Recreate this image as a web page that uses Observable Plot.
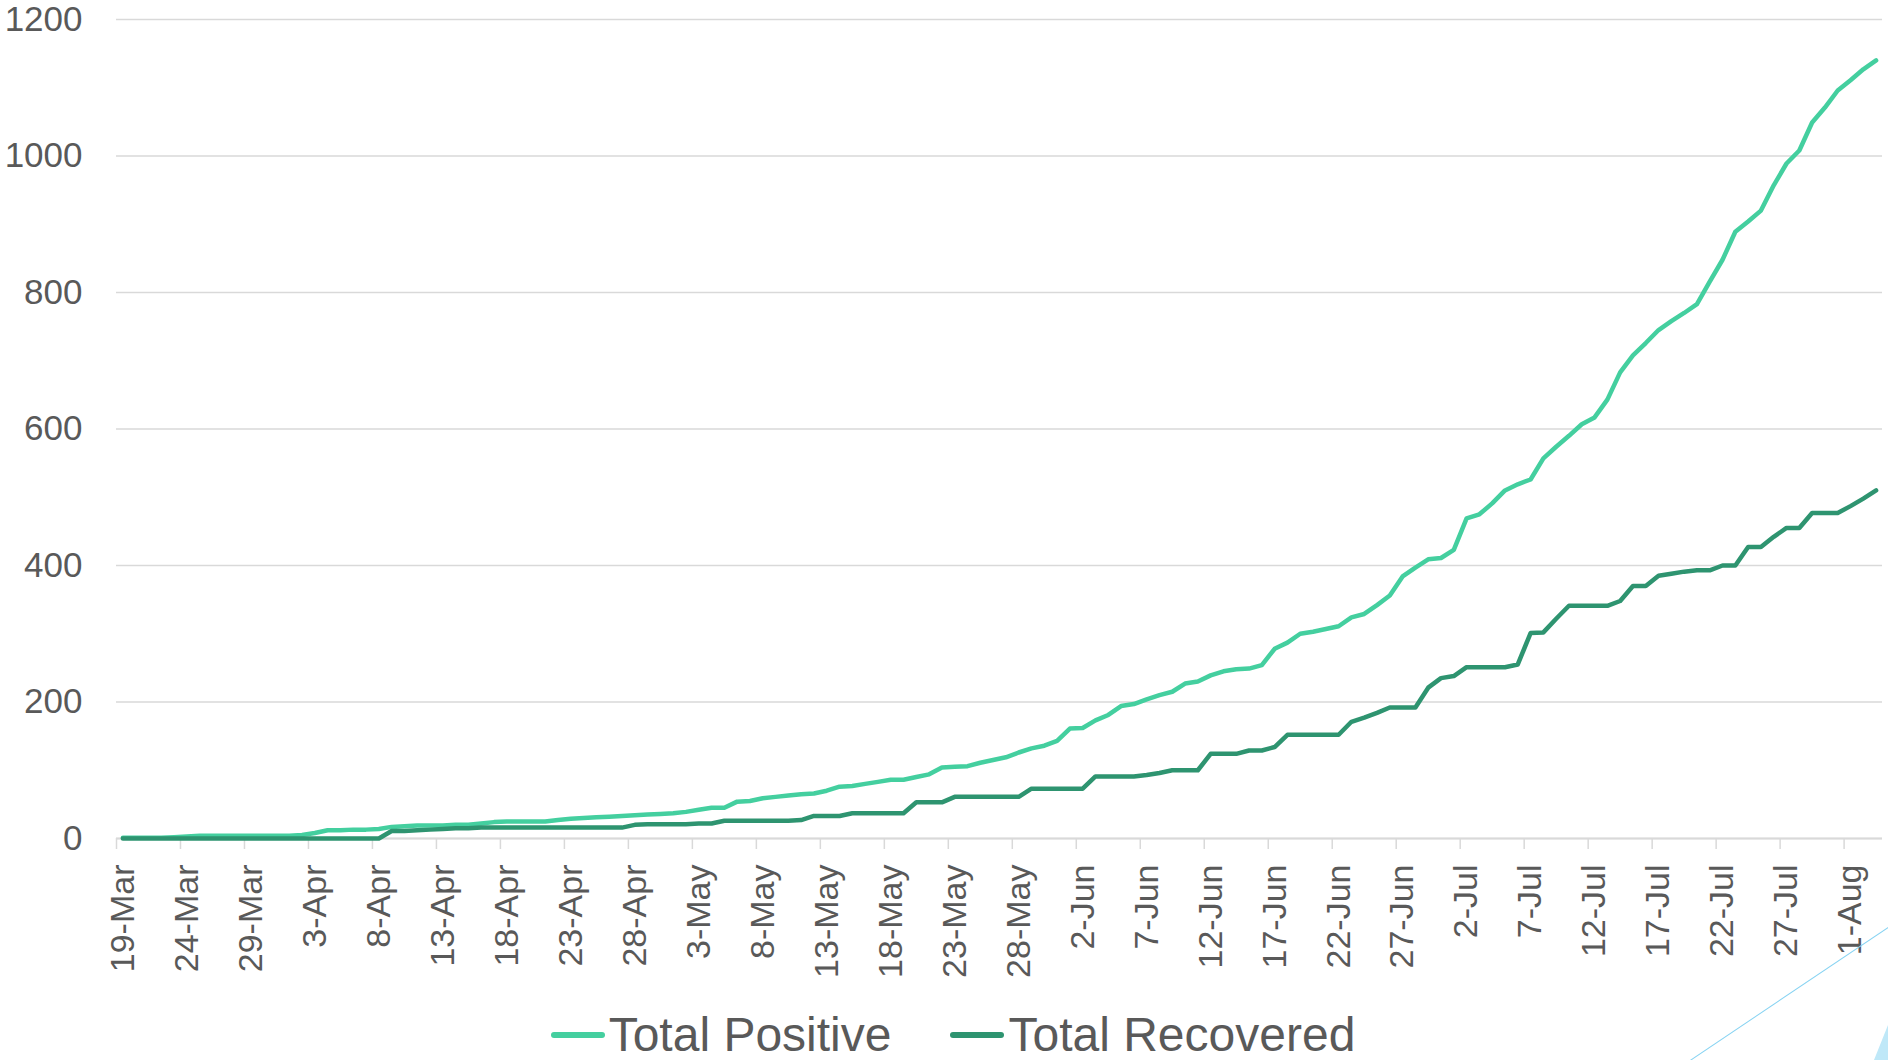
<!DOCTYPE html>
<html><head><meta charset="utf-8">
<script src="https://cdn.jsdelivr.net/npm/d3@7"></script>
<script src="https://cdn.jsdelivr.net/npm/@observablehq/plot@0.6"></script>
<style>
body{margin:0;background:#fff;width:1888px;height:1060px;overflow:hidden;position:relative;font-family:"Liberation Sans",Arial,sans-serif;}
#chart svg{display:block;}
#legend{display:flex;justify-content:center;align-items:center;gap:59px;padding-left:18px;font-size:48px;color:#595959;line-height:56px;height:56px;}
.item{display:flex;align-items:center;}
.sw{display:inline-block;width:54px;height:6px;border-radius:3px;margin-right:4px;}
.deco-line{position:absolute;left:1690px;top:1060px;width:240px;height:0;border-top:1.5px solid #86d3f2;transform-origin:0 0;transform:rotate(-33.9deg);}
.deco-tri{position:absolute;left:1874px;top:1025px;width:14px;height:35px;background:#bfe8f8;clip-path:polygon(100% 0,100% 100%,0 100%);}
</style></head><body>
<div id="chart"></div>
<div id="legend"></div>
<div class="deco-line"></div>
<div class="deco-tri"></div>
<script>
const startDate = "2020-03-19";
const seriesNames = ["Total Positive", "Total Recovered"];
const seriesColors = ["#44CF9F", "#2E9470"];
const totalPositive = [
  1,1,1,1,2,3,4,4,4,4,
  4,4,4,4,5,8,12,12,13,13,
  14,17,18,19,19,19,20,20,22,24,
  25,25,25,25,27,29,30,31,32,33,
  34,35,36,37,39,42,45,45,54,55,
  59,61,63,65,66,70,76,77,80,83,
  86,86,90,94,104,105,106,111,115,119,
  126,132,136,143,161,162,173,181,194,197,
  204,210,215,227,230,239,245,248,249,254,
  278,287,300,303,307,311,324,329,342,356,
  384,397,409,411,423,469,475,491,510,519,
  526,557,574,590,607,617,643,683,708,726,
  745,758,770,783,816,848,889,904,920,957,
  989,1008,1049,1071,1096,1111,1127,1140
];
const totalRecovered = [
  0,0,0,0,0,0,0,0,0,0,
  0,0,0,0,0,0,0,0,0,0,
  0,11,11,12,13,14,15,15,16,16,
  16,16,16,16,16,16,16,16,16,16,
  20,21,21,21,21,22,22,26,26,26,
  26,26,26,27,33,33,33,37,37,37,
  37,37,53,53,53,61,61,61,61,61,
  61,73,73,73,73,73,91,91,91,91,
  93,96,100,100,100,124,124,124,129,129,
  134,152,152,152,152,152,171,177,184,192,
  192,192,221,235,238,251,251,251,251,255,
  301,302,322,341,341,341,341,348,370,370,
  385,388,391,393,393,400,400,427,427,442,
  455,455,477,477,477,487,498,510
];
const tickLabels = ["19-Mar","24-Mar","29-Mar","3-Apr","8-Apr","13-Apr","18-Apr","23-Apr","28-Apr","3-May","8-May","13-May","18-May","23-May","28-May","2-Jun","7-Jun","12-Jun","17-Jun","22-Jun","27-Jun","2-Jul","7-Jul","12-Jul","17-Jul","22-Jul","27-Jul","1-Aug"];
const yTicks = [0, 200, 400, 600, 800, 1000, 1200];

const start = d3.utcParse("%Y-%m-%d")(startDate);
const end = d3.utcDay.offset(start, totalPositive.length);
const mid = d => d3.utcHour.offset(d, 12);
const rows = [];
[totalPositive, totalRecovered].forEach((arr, s) => {
  arr.forEach((v, i) => rows.push({date: mid(d3.utcDay.offset(start, i)), value: v, series: seriesNames[s]}));
});
const tickDates = tickLabels.map(l => d3.utcParse("%d-%b-%Y")(l + "-2020"));
const labelDates = tickDates.map(mid);

const chart = Plot.plot({
  width: 1888, height: 1007,
  marginTop: 19, marginBottom: 169, marginLeft: 116, marginRight: 6,
  style: {fontFamily: "'Liberation Sans', Arial, sans-serif", color: "#595959", background: "white"},
  x: {type: "utc", domain: [start, end]},
  y: {domain: [0, 1200]},
  color: {domain: seriesNames, range: seriesColors},
  marks: [
    Plot.gridY(yTicks, {stroke: "#D9D9D9", strokeOpacity: 1, strokeWidth: 1.5}),
    Plot.axisY(yTicks, {tickSize: 0, tickPadding: 34, fontSize: 35, tickFormat: d3.format("d"), label: null}),
    Plot.axisX(tickDates, {tickSize: 11, tickFormat: () => "", stroke: "#D9D9D9", strokeWidth: 1.5, label: null}),
    Plot.axisX(labelDates, {tickSize: 0, tickRotate: -90, tickPadding: 26, tickFormat: d3.utcFormat("%-d-%b"), fontSize: 34, label: null}),
    Plot.ruleY([0], {stroke: "#D9D9D9", strokeWidth: 2}),
    Plot.line(rows, {x: "date", y: "value", z: "series", stroke: "series", strokeWidth: 4.5, strokeLinejoin: "round", strokeLinecap: "round"})
  ]
});
document.getElementById("chart").appendChild(chart);

const legend = document.getElementById("legend");
seriesNames.forEach((name, i) => {
  const item = document.createElement("div");
  item.className = "item";
  const sw = document.createElement("span");
  sw.className = "sw";
  sw.style.background = seriesColors[i];
  const label = document.createElement("span");
  label.textContent = name;
  item.appendChild(sw);
  item.appendChild(label);
  legend.appendChild(item);
});
</script>
</body></html>
